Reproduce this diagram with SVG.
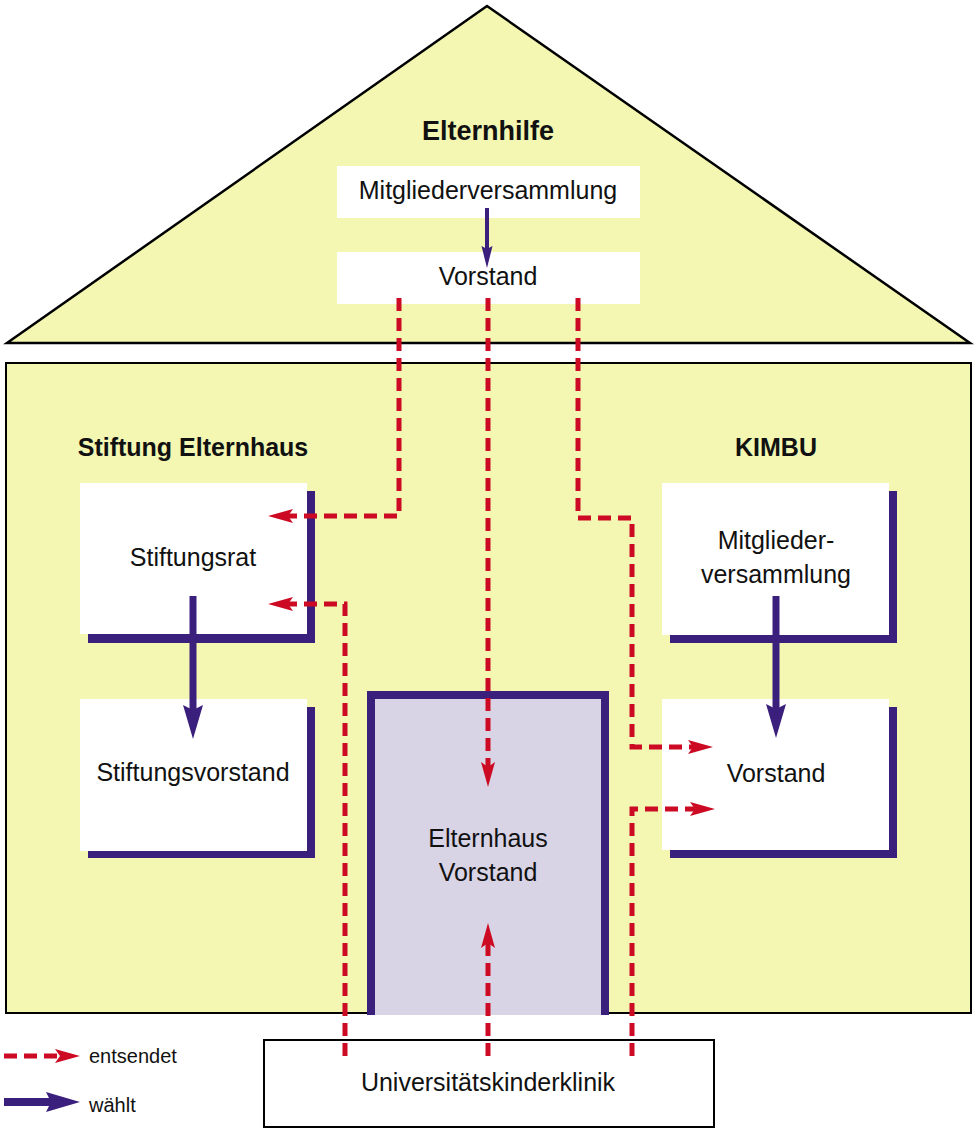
<svg xmlns="http://www.w3.org/2000/svg" width="976" height="1128" viewBox="0 0 976 1128">
<defs>
<style>
.t{font-family:"Liberation Sans",Arial,sans-serif;font-size:25px;fill:#111;text-anchor:middle}
.b{font-family:"Liberation Sans",Arial,sans-serif;font-size:25px;font-weight:bold;fill:#111;text-anchor:middle}
.l{font-family:"Liberation Sans",Arial,sans-serif;font-size:20px;fill:#111}
.box{fill:#fff}
.sh{fill:#3b1f7c}
.red{fill:none;stroke:#cc0a24;stroke-width:5;stroke-dasharray:13 7}
.pur{fill:none;stroke:#3b1f7c;stroke-width:7}
</style>
<marker id="ra" markerUnits="userSpaceOnUse" markerWidth="26" markerHeight="16" refX="10" refY="7" orient="auto" overflow="visible">
<path d="M0,0 L25,7 L0,14 L5,7 z" fill="#cc0a24"/>
</marker>
<marker id="pa" markerUnits="userSpaceOnUse" markerWidth="36" markerHeight="22" refX="12" refY="10" orient="auto" overflow="visible">
<path d="M0,0 L34,10 L0,20 L5,10 z" fill="#3b1f7c"/>
</marker>
<marker id="ps" markerUnits="userSpaceOnUse" markerWidth="22" markerHeight="12" refX="8" refY="5.5" orient="auto" overflow="visible">
<path d="M0,0 L22,5.5 L0,11 L3,5.5 z" fill="#3b1f7c"/>
</marker>
</defs>

<g id="house">
<rect x="6" y="363" width="965" height="650" fill="#f3f7b1" stroke="#000" stroke-width="2"/>
<polygon points="487,6 7,343 970,343" fill="#f3f7b1" stroke="#000" stroke-width="2.5" stroke-linejoin="miter"/>
<text class="b" x="488" y="140" style="font-size:27px">Elternhilfe</text>
<text class="b" x="193" y="456">Stiftung Elternhaus</text>
<text class="b" x="776" y="456">KIMBU</text>
</g>

<g id="eh-mv">
<rect class="box" x="337" y="166" width="303" height="52"/>
<text class="t" x="488" y="199">Mitgliederversammlung</text>
</g>
<g id="eh-vorstand">
<rect class="box" x="337" y="252" width="303" height="52"/>
<text class="t" x="488" y="285">Vorstand</text>
</g>

<g id="stiftungsrat">
<rect class="sh" x="88" y="491" width="227" height="152"/>
<rect class="box" x="80" y="483" width="227" height="151"/>
<text class="t" x="193" y="566">Stiftungsrat</text>
</g>
<g id="stiftungsvorstand">
<rect class="sh" x="88" y="707" width="227" height="151"/>
<rect class="box" x="80" y="699" width="227" height="152"/>
<text class="t" x="193" y="781">Stiftungsvorstand</text>
</g>

<g id="kimbu-mv">
<rect class="sh" x="670" y="491" width="227" height="152"/>
<rect class="box" x="662" y="483" width="227" height="152"/>
<text class="t" x="776" y="549">Mitglieder-</text>
<text class="t" x="776" y="583">versammlung</text>
</g>
<g id="kimbu-vorstand">
<rect class="sh" x="670" y="707" width="227" height="151"/>
<rect class="box" x="662" y="699" width="227" height="151"/>
<text class="t" x="776" y="782">Vorstand</text>
</g>

<g id="elternhaus-vorstand">
<rect x="371" y="695" width="234" height="320" fill="#d8d4e6"/>
<polyline points="371,1015 371,695 605,695 605,1015" fill="none" stroke="#3b1f7c" stroke-width="8"/>
<text class="t" x="488" y="847">Elternhaus</text>
<text class="t" x="488" y="881">Vorstand</text>
</g>

<g id="uniklinik">
<rect x="264" y="1040" width="450" height="87" fill="#fff" stroke="#000" stroke-width="2"/>
<text class="t" x="488" y="1091">Universitätskinderklinik</text>
</g>

<g id="connectors">
<line class="pur" x1="487" y1="208" x2="487" y2="254" style="stroke-width:4" marker-end="url(#ps)"/>
<line class="pur" x1="193" y1="596" x2="193" y2="717" marker-end="url(#pa)"/>
<line class="pur" x1="776" y1="596" x2="776" y2="716" marker-end="url(#pa)"/>

<polyline class="red" points="399,298 399,516 283,516" marker-end="url(#ra)"/>
<polyline class="red" points="488,298 488,772" marker-end="url(#ra)"/>
<polyline class="red" points="578,298 578,518 632,518 632,747 698,747" marker-end="url(#ra)"/>
<polyline class="red" points="345,1056 345,604 283,604" marker-end="url(#ra)"/>
<polyline class="red" points="488,1056 488,938" marker-end="url(#ra)"/>
<polyline class="red" points="632,1056 632,809 700,809" marker-end="url(#ra)"/>
</g>

<g id="legend">
<line class="red" x1="4" y1="1056" x2="65" y2="1056" marker-end="url(#ra)"/>
<line class="pur" x1="4" y1="1102" x2="58" y2="1102" style="stroke-width:8" marker-end="url(#pa)"/>
<text class="l" x="89" y="1063">entsendet</text>
<text class="l" x="89" y="1112">wählt</text>
</g>
</svg>
